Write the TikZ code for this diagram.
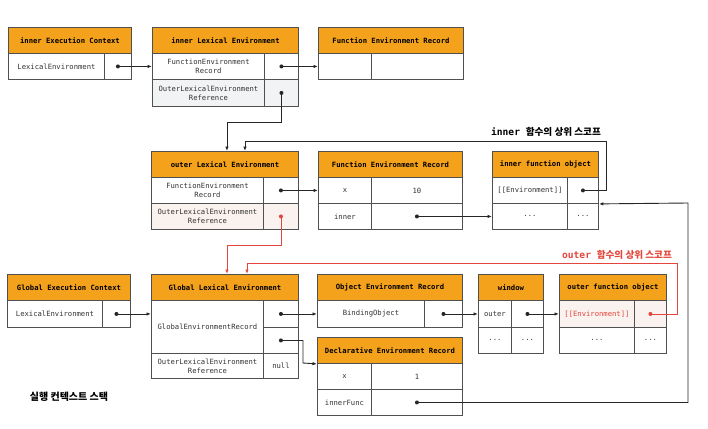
\documentclass[tikz,border=0pt]{standalone}
\usepackage{fontspec}
\setmonofont{DejaVu Sans Mono}
\newfontfamily\kofont{Noto Sans CJK KR}
\usetikzlibrary{arrows.meta}

\definecolor{hdrorange}{HTML}{F4A21C}
\definecolor{boxline}{HTML}{505050}
\definecolor{txtgray}{HTML}{333333}
\definecolor{scopered}{HTML}{E2463C}
\definecolor{refgray}{HTML}{F2F3F5}
\definecolor{refpink}{HTML}{F9F2EE}

\tikzset{
  cell/.style={draw=boxline, fill=white, anchor=north west, inner sep=1pt, align=center,
    text=txtgray, line width=0.9pt, font=\ttfamily\fontsize{7.2}{8.8}\selectfont},
  hdr/.style={cell, fill=hdrorange, text=black, font=\ttfamily\bfseries\fontsize{7.2}{8.8}\selectfont},
  wh/.style 2 args={minimum width=#1pt, minimum height=#2pt},
  conn/.style={draw=black!85, line width=0.9pt, -{Latex[length=4.5pt,width=3.5pt]}},
  redconn/.style={conn, draw=scopered},
  scopelabel/.style={font=\ttfamily\bfseries\fontsize{9.6}{11}\selectfont}
}

\begin{document}
\begin{tikzpicture}[x=1pt, y=-1pt]
\useasboundingbox (0,0) rectangle (708,428);

% inner execution context
\node[hdr, wh={123}{26}] (iec-h) at (8,27) {inner Execution Context};
\node[cell, wh={96}{26}] (iec-k) at (8,53) {LexicalEnvironment};
\node[cell, wh={27}{26}] (iec-v) at (104,53) {};

% inner lexical environment
\node[hdr, wh={146}{26}] (ile-h) at (152,27) {inner Lexical Environment};
\node[cell, wh={112}{26}] (ile-k1) at (152,53) {FunctionEnvironment\\Record};
\node[cell, wh={34}{26}] (ile-v1) at (264,53) {};
\node[cell, fill=refgray, wh={112}{27}] (ile-k2) at (152,79) {OuterLexicalEnvironment\\Reference};
\node[cell, fill=refgray, wh={34}{27}] (ile-v2) at (264,79) {};

\node[hdr, wh={145}{26}] (ifer-h) at (318,27) {Function Environment Record};
\node[cell, wh={53}{26}] (ifer-k) at (318,53) {};
\node[cell, wh={92}{26}] (ifer-v) at (371,53) {};

% outer lexical environment
\node[hdr, wh={147}{26}] (ole-h) at (151,151) {outer Lexical Environment};
\node[cell, wh={112}{26}] (ole-k1) at (151,177) {FunctionEnvironment\\Record};
\node[cell, wh={35}{26}] (ole-v1) at (263,177) {};
\node[cell, fill=refpink, wh={112}{26}] (ole-k2) at (151,203) {OuterLexicalEnvironment\\Reference};
\node[cell, fill=refpink, wh={35}{26}] (ole-v2) at (263,203) {};

\node[hdr, wh={144}{26}] (ofer-h) at (318,151) {Function Environment Record};
\node[cell, wh={53}{26}] (ofer-k1) at (318,177) {x};
\node[cell, wh={91}{26}] (ofer-v1) at (371,177) {10};
\node[cell, wh={53}{26}] (ofer-k2) at (318,203) {inner};
\node[cell, wh={91}{26}] (ofer-v2) at (371,203) {};

\node[hdr, wh={106}{26}] (ifo-h) at (492,151) {inner function object};
\node[cell, wh={75}{26}] (ifo-k1) at (492,177) {[[Environment]]};
\node[cell, wh={31}{26}] (ifo-v1) at (567,177) {};
\node[cell, wh={75}{26}] (ifo-k2) at (492,203) {...};
\node[cell, wh={31}{26}] (ifo-v2) at (567,203) {...};

% global execution context
\node[hdr, wh={123}{26}] (gec-h) at (7,274) {Global Execution Context};
\node[cell, wh={95}{27}] (gec-k) at (7,300) {LexicalEnvironment};
\node[cell, wh={28}{27}] (gec-v) at (102,300) {};

\node[hdr, wh={147}{26}] (gle-h) at (151,274) {Global Lexical Environment};
\node[cell, wh={112}{53}] (gle-k1) at (151,300) {GlobalEnvironmentRecord};
\node[cell, wh={35}{27}] (gle-v1) at (263,300) {};
\node[cell, wh={35}{26}] (gle-v2) at (263,327) {};
\node[cell, wh={112}{25}] (gle-k2) at (151,353) {OuterLexicalEnvironment\\Reference};
\node[cell, wh={35}{25}] (gle-v3) at (263,353) {null};

\node[hdr, wh={145}{26}] (oer-h) at (317,274) {Object Environment Record};
\node[cell, wh={107}{27}] (oer-k) at (317,300) {BindingObject};
\node[cell, wh={38}{27}] (oer-v) at (424,300) {};

\node[hdr, wh={145}{26}] (der-h) at (317,337) {Declarative Environment Record};
\node[cell, wh={54}{26}] (der-k1) at (317,363) {x};
\node[cell, wh={91}{26}] (der-v1) at (371,363) {1};
\node[cell, wh={54}{26}] (der-k2) at (317,389) {innerFunc};
\node[cell, wh={91}{26}] (der-v2) at (371,389) {};

\node[hdr, wh={65}{26}] (win-h) at (478,274) {window};
\node[cell, wh={33}{27}] (win-k1) at (478,300) {outer};
\node[cell, wh={32}{27}] (win-v1) at (511,300) {};
\node[cell, wh={33}{26}] (win-k2) at (478,327) {...};
\node[cell, wh={32}{26}] (win-v2) at (511,327) {...};

\node[hdr, wh={107}{26}] (ofo-h) at (559,274) {outer function object};
\node[cell, fill=refpink, text=scopered, wh={75}{27}] (ofo-k1) at (559,300) {[[Environment]]};
\node[cell, fill=refpink, wh={32}{27}] (ofo-v1) at (634,300) {};
\node[cell, wh={75}{26}] (ofo-k2) at (559,327) {...};
\node[cell, wh={32}{26}] (ofo-v2) at (634,327) {...};

% labels
\node[scopelabel] (innerScope) at (546,132) {inner {\kofont 함수의 상위 스코프}};
\node[scopelabel, text=scopered] (outerScope) at (617,255) {outer {\kofont 함수의 상위 스코프}};
\node[font=\kofont\bfseries\fontsize{10}{12}\selectfont] (stackLabel) at (69,397) {실행 컨텍스트 스택};

% turning points
\coordinate (innerTop) at (606,141);
\coordinate (outerTop) at (677,263);
\coordinate (rightTurn) at (688,203);
\coordinate (declTurn) at (303,363);

% connectors
\draw[conn] (iec-v.center) -- (ile-k1.west);
\draw[conn] (ile-v1.center) -- (ifer-k.west);
\draw[conn] (ile-v2.center) -- ++(0,29.5) -| ([xshift=2pt]ole-h.north);
\draw[conn] (ole-v1.center) -- (ofer-k1.west);
\draw[conn] (ofer-v2.center) -- (ifo-k2.west);
\draw[conn] (ifo-v1.center) -| (innerTop) -| ([xshift=20pt]ole-h.north);
\draw[conn] (der-v2.center) -| (rightTurn) -- (ifo-v1.south east);
\draw[conn] (gec-v.center) -- (gec-v.center -| gle-k1.west);
\draw[conn] (gle-v1.center) -- (oer-k.west);
\draw[conn] (gle-v2.center) -| (declTurn) -- (der-h.south west);
\draw[conn] (oer-v.center) -- (win-k1.west);
\draw[conn] (win-v1.center) -- (ofo-k1.west);
\draw[redconn] (ole-v2.center) -- ++(0,29) -| ([xshift=2pt]gle-h.north);
\draw[redconn] (ofo-v1.center) -| (outerTop) -| ([xshift=22pt]gle-h.north);

% dots
\foreach \n in {iec-v,ile-v1,ile-v2,ole-v1,ofer-v2,ifo-v1,der-v2,gec-v,gle-v1,gle-v2,oer-v,win-v1}
  \fill[black!85] (\n) circle (2pt);
\foreach \n in {ole-v2,ofo-v1}
  \fill[scopered] (\n) circle (2pt);
\end{tikzpicture}
\end{document}
